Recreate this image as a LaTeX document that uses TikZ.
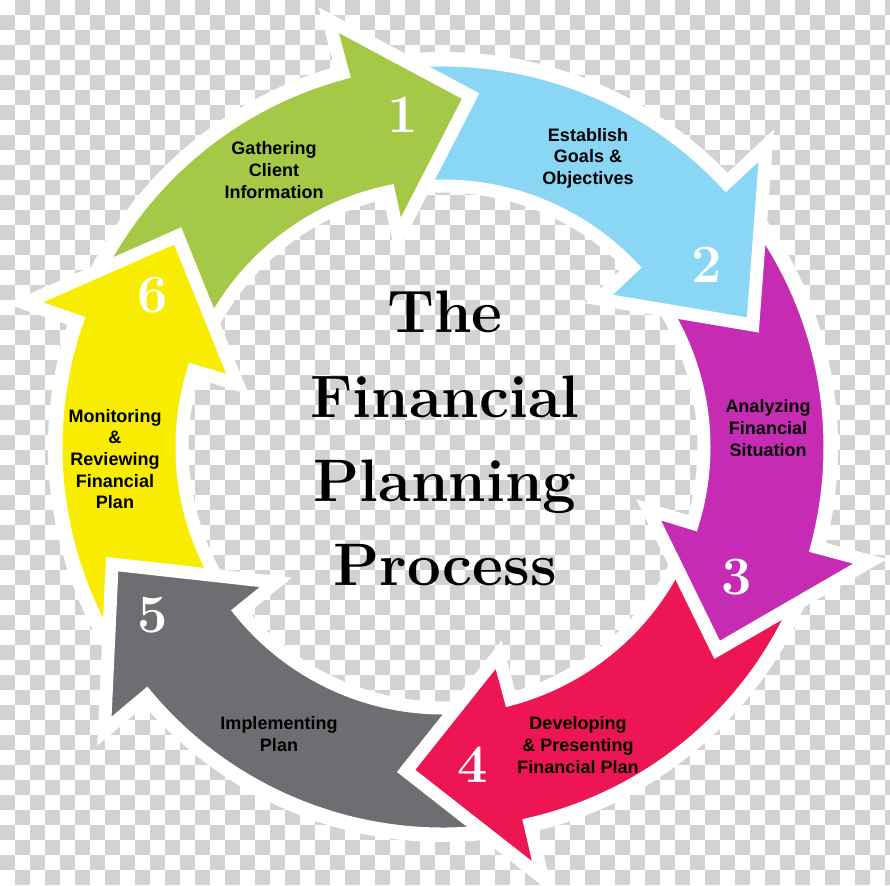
\documentclass[tikz,border=0pt]{standalone}
\usepackage{fontspec}
\newfontfamily\labelfont{Liberation Sans}
\usetikzlibrary{calc}
\definecolor{checkgray}{HTML}{D2D2D2}
\definecolor{gatherGreen}{HTML}{A5C947}
\definecolor{goalBlue}{HTML}{8AD6F5}
\definecolor{analyzeMagenta}{HTML}{C62BB4}
\definecolor{developRed}{HTML}{EE1652}
\definecolor{implementGray}{HTML}{6D6E71}
\definecolor{monitorYellow}{HTML}{F8EC00}
\tikzset{
  arrowline/.style={draw=white, line width=13pt, line join=miter},
  checker/.style={fill=checkgray},
  steplabel/.style={font=\labelfont\fontsize{18}{21.6}\bfseries\selectfont, align=center, text=black, inner sep=0pt},
  stepnum/.style={font=\fontsize{54}{54}\bfseries\selectfont, text=white, inner sep=0pt},
  titleline/.style={font=\fontsize{60}{72}\bfseries\selectfont, anchor=base, inner sep=0pt}
}
% (tail:head outer:head inner:tip angle:tip radius)
\def\cyclearrow[#1](#2:#3:#4:#5:#6){\draw[arrowline,fill=#1] (#2:\rout) arc (#2:#3:\rout) -- (#3:\rbout) -- (#5:#6) -- (#4:\rbin) -- (#4:\rin) arc (#4:#2:\rin) -- cycle;}

\begin{document}
\begin{tikzpicture}[x=1pt,y=1pt]
			%%%%% START %%%%%
			\def\rout{387}
			\def\rin{261}
			\def\rring{395}
			\def\rbout{442}
			\def\rbin{215}
			\def\sq{15}
			
			\useasboundingbox (-443,-438) rectangle (447,447);
			
			% background squares
			\begin{scope}
			\clip (-443,-438) rectangle (447,447);
			\foreach \j in {0,...,58}{
				\pgfmathtruncatemacro{\off}{mod(\j,2)}
				\foreach \i in {0,...,29}
					\fill[checker] ({\sq*(2*\i+1-\off)-443},{447-\sq*\j}) rectangle ++(\sq,-\sq);
			}
			\end{scope}
			
			\fill[white,even odd rule] (0,0) circle (\rring) (0,0) circle (\rin);
			
			% arrows, last one first so every head lies on the next tail
			\cyclearrow[monitorYellow](216:161:163:141.5:339)
			\cyclearrow[implementGray](-80:-140:-141:-160.5:351)
			\cyclearrow[developRed](-20:-77:-75:-96.5:326)
			\cyclearrow[analyzeMagenta](39:-15:-17:-36.5:341)
			\cyclearrow[goalBlue](100:43:43.5:21.5:333)
			\cyclearrow[gatherGreen](157:105:102:85.5:352)
			
			% head of 6 again over the tail of 1
			\begin{scope}
			\clip (0,0) -- (132:520) arc (132:172:520) -- cycle;
			\cyclearrow[monitorYellow](216:161:163:141.5:339)
			\end{scope}
			
			\node[stepnum] (num1) at (-40,332) {1};
			\node[stepnum] (num2) at (264,182) {2};
			\node[stepnum] (num3) at (294,-130) {3};
			\node[stepnum] (num4) at (30,-318) {4};
			\node[stepnum] (num5) at (-290,-168) {5};
			\node[stepnum] (num6) at (-290,152) {6};
			
			\node[steplabel] (gather) at (-169,277) {Gathering\\Client\\Information};
			\node[steplabel] (goals) at (145,289) {Establish\\Goals \&\\Objectives};
			\node[steplabel] (analyze) at (325,19) {Analyzing\\Financial\\Situation};
			\node[steplabel] (develop) at (135,-298) {Developing\\\& Presenting\\Financial Plan};
			\node[steplabel] (implement) at (-164,-287) {Implementing\\Plan};
			\node[steplabel] (monitor) at (-328,-12) {Monitoring\\\&\\Reviewing\\Financial\\Plan};
			
			\node[titleline] (titleA) at (2,114) {The};
			\node[titleline] (titleB) at (2,29) {Financial};
			\node[titleline] (titleC) at (2,-55) {Planning};
			\node[titleline] (titleD) at (2,-138) {Process};
			%%%%% END %%%%%
\end{tikzpicture}
\end{document}
